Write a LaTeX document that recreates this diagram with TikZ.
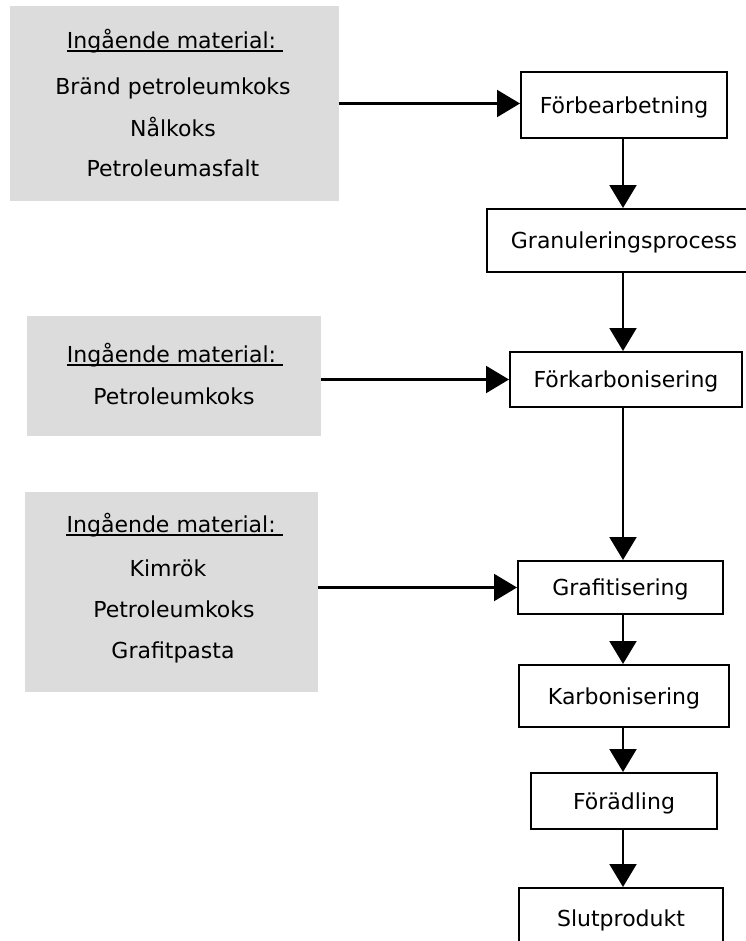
\documentclass[tikz,border=0pt]{standalone}
\usepackage{fontspec}
\setmainfont{DejaVu Sans}
\usetikzlibrary{arrows.meta,calc}
\definecolor{inbg}{RGB}{220,220,220}
\tikzset{
  inbox/.style={fill=inbg, draw=none},
  txt/.style={inner sep=0pt, font=\fontsize{22bp}{26bp}\selectfont, anchor=base},
  stepbox/.style={draw=black, line width=2bp, fill=white, inner sep=0pt,
    font=\fontsize{22bp}{26bp}\selectfont, text height=16bp, text depth=0bp},
  flow/.style={line width=2.2bp, -{Triangle[length=23bp,width=27bp]}},
  uline/.style={line width=1.6bp}
}
\begin{document}
\begin{tikzpicture}[x=1bp,y=-1bp]
\useasboundingbox (0,0) rectangle (746,941);
\clip (0,0) rectangle (746,941);
\fill[white] (0,0) rectangle (746,941);
\coordinate (spine) at (623,0);

% input boxes
\node[inbox, minimum width=329bp, minimum height=195bp] (in1) at (174.5,103.5) {};
\node[inbox, minimum width=294bp, minimum height=120bp] (in2) at (174,376) {};
\node[inbox, minimum width=293bp, minimum height=200bp] (in3) at (171.5,592) {};

% input texts
\node[txt] (h1) at (175,48) {Ingående material:\rule{7bp}{0pt}};
\node[txt] (t11) at (173,94) {Bränd petroleumkoks};
\node[txt] (t12) at (173,136) {Nålkoks};
\node[txt] (t13) at (173,176) {Petroleumasfalt};

\node[txt] (h2) at (175,362) {Ingående material:\rule{7bp}{0pt}};
\node[txt] (t21) at (174,404) {Petroleumkoks};

\node[txt] (h3) at (174.7,532) {Ingående material:\rule{7bp}{0pt}};
\node[txt] (t31) at (168,576) {Kimrök};
\node[txt] (t32) at (174,617) {Petroleumkoks};
\node[txt] (t33) at (173,658) {Grafitpasta};

\foreach \h in {h1,h2,h3}
  \draw[uline] ([yshift=-3bp]\h.base west) -- ([yshift=-3bp]\h.base east);

% process boxes
\node[stepbox, minimum width=206bp, minimum height=66bp] (fb) at (624,105) {Förbearbetning};
\node[stepbox, minimum width=274bp, minimum height=63bp] (gr) at (624,240.5) {Granuleringsprocess};
\node[stepbox, minimum width=232bp, minimum height=55bp] (fk) at (626,379.5) {Förkarbonisering};
\node[stepbox, minimum width=205bp, minimum height=53bp] (gf) at (620.5,587.5) {Grafitisering};
\node[stepbox, minimum width=210bp, minimum height=62bp] (kb) at (624,696) {Karbonisering};
\node[stepbox, minimum width=186bp, minimum height=56bp] (fo) at (624,801) {Förädling};
\node[stepbox, minimum width=204bp, minimum height=60bp] (sp) at (621,918) {Slutprodukt};

% vertical flow
\draw[flow] (fb.south -| spine) -- (gr.north -| spine);
\draw[flow] (gr.south -| spine) -- (fk.north -| spine);
\draw[flow] (fk.south -| spine) -- (gf.north -| spine);
\draw[flow] (gf.south -| spine) -- (kb.north -| spine);
\draw[flow] (kb.south -| spine) -- (fo.north -| spine);
\draw[flow] (fo.south -| spine) -- (sp.north -| spine);

% inputs
\draw[flow] (in1.east) -- (in1.east -| fb.west);
\draw[flow] (fk.west -| in2.east) -- (fk.west);
\draw[flow] (gf.west -| in3.east) -- (gf.west);
\end{tikzpicture}
\end{document}
